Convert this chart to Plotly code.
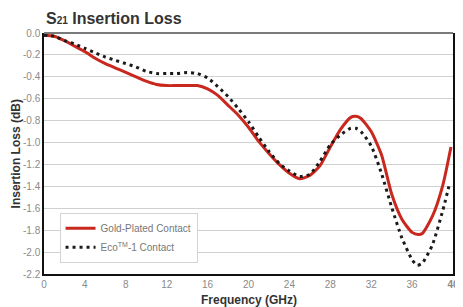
import plotly.graph_objects as go

freq_gold = [0, 1, 2, 3, 4, 5, 6, 7, 8, 9, 10, 11, 12, 13, 14, 15, 16, 17, 18, 19, 20,
             21, 22, 23, 24, 25, 26, 27, 28, 29, 30, 30.5, 31, 32, 33, 34, 35, 36, 36.6,
             37, 38, 39, 39.8]
loss_gold = [-0.02, -0.03, -0.07, -0.12, -0.17, -0.23, -0.28, -0.32, -0.36, -0.40, -0.44,
             -0.47, -0.48, -0.48, -0.48, -0.48, -0.51, -0.57, -0.66, -0.75, -0.86, -0.99,
             -1.10, -1.20, -1.28, -1.33, -1.30, -1.21, -1.04, -0.88, -0.77, -0.76, -0.78,
             -0.90, -1.11, -1.47, -1.70, -1.82, -1.84, -1.83, -1.67, -1.39, -1.04]

freq_eco = [0, 1, 2, 3, 4, 5, 6, 7, 8, 9, 10, 11, 12, 13, 14, 15, 16, 17, 18, 19, 20,
            21, 22, 23, 24, 25, 26, 27, 28, 29, 30, 30.5, 31, 32, 33, 34, 35, 36, 36.5,
            37, 38, 39, 39.6]
loss_eco = [-0.02, -0.03, -0.07, -0.10, -0.14, -0.18, -0.22, -0.25, -0.28, -0.31, -0.35,
            -0.37, -0.37, -0.37, -0.36, -0.37, -0.41, -0.49, -0.58, -0.69, -0.81, -0.95,
            -1.08, -1.19, -1.26, -1.31, -1.29, -1.17, -1.02, -0.93, -0.87, -0.87, -0.90,
            -1.03, -1.28, -1.59, -1.87, -2.07, -2.12, -2.10, -1.93, -1.62, -1.40]

x_ticks = [0, 4, 8, 12, 16, 20, 24, 28, 32, 36, 40]
x_ticktext = ["0", "4", "8", "12", "16", "20", "24", "28", "32", "36", "<b>40</b>"]
y_ticks = [0.0, -0.2, -0.4, -0.6, -0.8, -1.0, -1.2, -1.4, -1.6, -1.8, -2.0, -2.2]
y_ticktext = ["0.0", "-0.2", "-0.4", "-0.6", "-0.8", "-1.0", "-1.2", "-1.4", "-1.6",
              "-1.8", "-2.0", "-2.2"]

narrow = "Liberation Sans Narrow, Arial Narrow, Liberation Sans, sans-serif"

fig = go.Figure()
fig.add_trace(go.Scatter(x=freq_gold, y=loss_gold, mode="lines", name="Gold-Plated Contact",
                         line=dict(color="#c8281e", width=3, shape="spline", smoothing=0.6)))
fig.add_trace(go.Scatter(x=freq_eco, y=loss_eco, mode="lines", name="Eco<sup>TM</sup>-1 Contact",
                         line=dict(color="#1a1a1a", width=3, dash="3px,4px", shape="spline",
                                   smoothing=0.6)))

# page body has an 8px margin, so the figure is drawn at (8, 8)
fig.update_layout(
    width=455, height=299,
    margin=dict(l=35.5, r=4, t=24.5, b=33),
    paper_bgcolor="white", plot_bgcolor="white",
    showlegend=True,
    legend=dict(x=0.038, y=0.254, xanchor="left", yanchor="top",
                bgcolor="white", bordercolor="#d4d4d4", borderwidth=1,
                font=dict(family=narrow, size=10, color="#777777"),
                tracegroupgap=0, itemwidth=30),
    xaxis=dict(range=[0, 40], tickvals=x_ticks, ticktext=x_ticktext,
               showgrid=False, zeroline=False, showline=True, linecolor="#111111",
               linewidth=1.5, ticks="", tickfont=dict(family=narrow, size=10, color="#8a8a8a")),
    yaxis=dict(range=[-2.2, 0], tickvals=y_ticks, ticktext=y_ticktext,
               showgrid=True, gridcolor="#d0d0d0", gridwidth=1, zeroline=False,
               showline=True, linecolor="#111111", linewidth=1.5, mirror=True, ticks="",
               tickfont=dict(family=narrow, size=10, color="#8a8a8a")),
    shapes=[dict(type="line", xref="paper", yref="paper", x0=0, x1=1, y0=1, y1=1,
                 line=dict(color="#7a7a7a", width=2))],
    annotations=[
        dict(text="<b>S<span style='font-size:10px'>21</span> Insertion Loss</b>",
             xref="paper", yref="paper", x=0, y=1 + 14.5 / 241.5,
             xanchor="left", yanchor="middle",
             showarrow=False, font=dict(family=narrow, size=16, color="#333333")),
        dict(text="<b>Insertion Loss (dB)</b>", xref="paper", yref="paper",
             x=-28.5 / 415.5, y=0.5, textangle=-90, xanchor="center", yanchor="middle",
             showarrow=False, font=dict(family=narrow, size=12, color="#333333")),
        dict(text="<b>Frequency (GHz)</b>", xref="paper", yref="paper",
             x=0.5, y=-26 / 241.5, xanchor="center", yanchor="middle",
             showarrow=False, font=dict(family=narrow, size=12, color="#333333")),
    ],
)

fig.write_html("out.html")
